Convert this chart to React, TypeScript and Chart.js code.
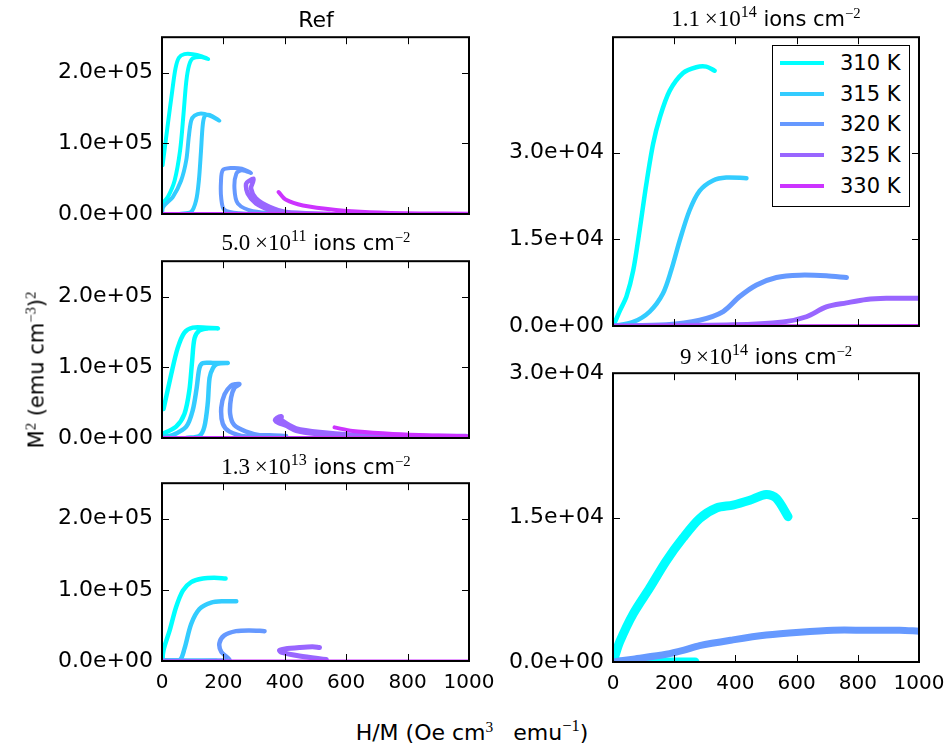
import React, { useEffect, useRef } from 'react';
import { Chart, registerables } from 'chart.js';

Chart.register(...registerables);

// ---------- labels & colours ----------
const temps = ['310 K', '315 K', '320 K', '325 K', '330 K'];
const colors = ['rgb(0,255,255)', 'rgb(51,204,255)', 'rgb(102,153,255)', 'rgb(153,102,255)', 'rgb(204,51,255)'];

// ---------- ticks ----------
const xTicks = [0, 200, 400, 600, 800, 1000];
const leftYTicks = [0, 100000, 200000];
const rightYTicks = [0, 15000, 30000];

// ---------- data: [H/M, M^2] ; left panels M^2 in 1e5, right panels in 1e4 ----------
// Ref
const ref310 = [[2, 0.69], [19, 1.27], [33, 1.73], [44, 2.06], [55, 2.21], [73, 2.26], [100, 2.26], [130, 2.23], [150, 2.19], [128, 2.22], [100, 2.2], [88, 2.1], [79, 1.87], [70, 1.41], [59, 0.9], [41, 0.47], [19, 0.24], [2, 0.15]];
const ref315 = [[0, 0.0], [4, 0.1], [35, 0.24], [62, 0.47], [79, 0.76], [87, 1.08], [95, 1.32], [106, 1.39], [127, 1.42], [155, 1.39], [187, 1.32], [155, 1.4], [140, 1.39], [133, 1.27], [127, 0.89], [120, 0.47], [111, 0.19], [95, 0.03], [57, 0.0]];
const ref320 = [[404, 0.005], [296, 0.04], [247, 0.15], [236, 0.36], [242, 0.57], [260, 0.62], [290, 0.58], [260, 0.64], [225, 0.65], [198, 0.62], [192, 0.45], [193, 0.22], [203, 0.06], [252, 0.01], [350, 0.0]];
const ref325 = [[545, 0.003], [404, 0.03], [350, 0.1], [306, 0.22], [290, 0.36], [296, 0.45], [298, 0.5], [284, 0.47], [274, 0.43], [279, 0.29], [306, 0.15], [350, 0.06], [404, 0.015], [545, 0.0]];
const ref330 = [[0, 0.0], [1000, 0.0], [1000, 0.005], [839, 0.008], [676, 0.025], [567, 0.057], [459, 0.12], [404, 0.2], [380, 0.31]];

// 5.0e11 ions cm^-2
const p2_310 = [[5, 0.41], [30, 0.9], [51, 1.27], [73, 1.49], [100, 1.56], [144, 1.56], [182, 1.55], [150, 1.55], [122, 1.52], [106, 1.41], [98, 1.08], [89, 0.67], [73, 0.34], [46, 0.16], [8, 0.07]];
const p2_315 = [[8, 0.02], [35, 0.04], [79, 0.16], [100, 0.39], [113, 0.71], [122, 0.99], [133, 1.06], [170, 1.06], [214, 1.06], [180, 1.05], [166, 0.99], [155, 0.85], [149, 0.49], [138, 0.16], [122, 0.03], [79, 0.0]];
const p2_320 = [[404, 0.03], [350, 0.04], [318, 0.04], [274, 0.09], [236, 0.18], [222, 0.34], [225, 0.57], [236, 0.71], [252, 0.76], [240, 0.76], [225, 0.74], [204, 0.62], [193, 0.43], [198, 0.2], [220, 0.09], [274, 0.02], [350, 0.01]];
const p2_325 = [[990, 0.02], [730, 0.027], [621, 0.04], [513, 0.078], [437, 0.13], [405, 0.2], [385, 0.27], [388, 0.3], [375, 0.28], [370, 0.25], [380, 0.22], [405, 0.18], [437, 0.11], [513, 0.06], [621, 0.03], [990, 0.01]];
const p2_330 = [[0, 0.0], [1000, 0.0], [1000, 0.02], [838, 0.042], [730, 0.064], [621, 0.1], [562, 0.15]];

// 1.3e13 ions cm^-2
const p3_310 = [[177, 0.005], [5, 0.01], [5, 0.15], [25, 0.43], [46, 0.76], [68, 0.99], [95, 1.11], [133, 1.16], [170, 1.17], [207, 1.16]];
const p3_315 = [[0, 0.01], [57, 0.01], [73, 0.17], [95, 0.52], [122, 0.73], [160, 0.82], [200, 0.84], [242, 0.84]];
const p3_320 = [[0, 0.005], [218, 0.01], [193, 0.13], [187, 0.25], [203, 0.36], [241, 0.42], [285, 0.43], [334, 0.42]];
const p3_325 = [[535, 0.02], [448, 0.07], [390, 0.12], [383, 0.15], [400, 0.17], [448, 0.19], [490, 0.2], [513, 0.19]];
const p3_330 = [[0, 0.0], [1000, 0.0]];

// 1.1e14 ions cm^-2
const p4_310 = [[0, 0.0], [5, 0.05], [22, 0.26], [44, 0.51], [66, 0.96], [87, 1.66], [109, 2.46], [131, 3.15], [153, 3.61], [185, 4.07], [229, 4.38], [272, 4.48], [305, 4.49], [332, 4.42]];
const p4_315 = [[0, 0.0], [66, 0.07], [120, 0.25], [163, 0.56], [190, 0.96], [218, 1.48], [250, 2.0], [283, 2.34], [327, 2.52], [370, 2.57], [436, 2.56]];
const p4_320 = [[0, 0.0], [174, 0.02], [283, 0.1], [360, 0.25], [414, 0.51], [469, 0.71], [534, 0.84], [610, 0.88], [697, 0.87], [763, 0.84]];
const p4_325 = [[0, 0.0], [392, 0.02], [556, 0.07], [632, 0.16], [697, 0.33], [763, 0.4], [828, 0.46], [893, 0.48], [1000, 0.48]];
const p4_330 = [[0, 0.0], [1000, 0.01]];

// 9e14 ions cm^-2
const p5_310 = [[268, 0.0], [0, 0.0], [5, 0.05], [22, 0.21], [66, 0.5], [120, 0.77], [174, 1.05], [229, 1.29], [283, 1.49], [338, 1.6], [392, 1.63], [447, 1.68], [501, 1.74], [534, 1.7], [572, 1.51]];
const p5_320 = [[0, 0.0], [66, 0.03], [174, 0.08], [229, 0.12], [283, 0.17], [392, 0.23], [501, 0.28], [610, 0.31], [719, 0.33], [828, 0.33], [937, 0.33], [1000, 0.32]];

// ---------- layout ----------
const PL = 150, PT = 20, PR = 44, PB = 40;
const FONT = 'DejaVu Sans';

type Series = { t: number; pts: number[][]; w: number };
type PanelDef = {
  plot: { left: number; top: number; width: number; height: number };
  yMax: number; yTicks: number[]; unit: number; showX: boolean; series: Series[];
};

const panels: PanelDef[] = [
  { plot: { left: 162, top: 35, width: 307, height: 179 }, yMax: 250000, yTicks: leftYTicks, unit: 1e5, showX: false,
    series: [{ t: 0, pts: ref310, w: 4 }, { t: 1, pts: ref315, w: 4 }, { t: 2, pts: ref320, w: 4 }, { t: 3, pts: ref325, w: 4.5 }, { t: 4, pts: ref330, w: 4 }] },
  { plot: { left: 162, top: 259, width: 307, height: 179 }, yMax: 250000, yTicks: leftYTicks, unit: 1e5, showX: false,
    series: [{ t: 0, pts: p2_310, w: 4.5 }, { t: 1, pts: p2_315, w: 4.5 }, { t: 2, pts: p2_320, w: 4.5 }, { t: 3, pts: p2_325, w: 5.5 }, { t: 4, pts: p2_330, w: 4 }] },
  { plot: { left: 162, top: 481, width: 307, height: 180 }, yMax: 250000, yTicks: leftYTicks, unit: 1e5, showX: true,
    series: [{ t: 0, pts: p3_310, w: 4.5 }, { t: 1, pts: p3_315, w: 4.5 }, { t: 2, pts: p3_320, w: 4.5 }, { t: 3, pts: p3_325, w: 5 }, { t: 4, pts: p3_330, w: 3 }] },
  { plot: { left: 613, top: 35, width: 306, height: 291 }, yMax: 50000, yTicks: rightYTicks, unit: 1e4, showX: false,
    series: [{ t: 0, pts: p4_310, w: 4.5 }, { t: 1, pts: p4_315, w: 4.5 }, { t: 2, pts: p4_320, w: 5 }, { t: 3, pts: p4_325, w: 5 }, { t: 4, pts: p4_330, w: 3 }] },
  { plot: { left: 613, top: 371, width: 306, height: 291 }, yMax: 30000, yTicks: rightYTicks, unit: 1e4, showX: true,
    series: [{ t: 0, pts: p5_310, w: 9 }, { t: 2, pts: p5_320, w: 7 }] },
];

const fmtSci = (v: number) => {
  const [m, e] = v.toExponential(1).split('e');
  const sign = e[0] === '-' ? '-' : '+';
  return `${m}e${sign}${e.replace(/^[+-]/, '').padStart(2, '0')}`;
};

const framePlugin = {
  id: 'frame',
  afterDraw(chart: any) {
    const { ctx, chartArea: a, scales } = chart;
    const L = 7;
    ctx.save();
    ctx.strokeStyle = '#000';
    ctx.lineWidth = 1;
    ctx.beginPath();
    scales.x.ticks.forEach((t: any) => {
      const px = Math.round(scales.x.getPixelForValue(t.value)) + 0.5;
      ctx.moveTo(px, a.bottom); ctx.lineTo(px, a.bottom - L);
      ctx.moveTo(px, a.top); ctx.lineTo(px, a.top + L);
    });
    scales.y.ticks.forEach((t: any) => {
      const py = Math.round(scales.y.getPixelForValue(t.value)) + 0.5;
      ctx.moveTo(a.left, py); ctx.lineTo(a.left + L, py);
      ctx.moveTo(a.right, py); ctx.lineTo(a.right - L, py);
    });
    ctx.stroke();
    ctx.lineWidth = 2;
    ctx.strokeRect(a.left, a.top, a.right - a.left, a.bottom - a.top);
    ctx.restore();
  },
};

function Panel({ def }: { def: PanelDef }) {
  const ref = useRef<HTMLCanvasElement>(null);
  useEffect(() => {
    const chart = new Chart(ref.current as HTMLCanvasElement, {
      type: 'line',
      data: {
        datasets: def.series.map((s, i) => ({
          label: temps[s.t],
          data: s.pts.map(([x, y]) => ({ x, y: y * def.unit })),
          borderColor: colors[s.t],
          backgroundColor: colors[s.t],
          borderWidth: s.w,
          pointRadius: 0,
          tension: 0.3,
          fill: false,
          order: -i,
          borderCapStyle: 'round',
          borderJoinStyle: 'round',
        })),
      },
      options: {
        responsive: false,
        animation: false,
        events: [],
        layout: { padding: { left: 0, top: PT, right: PR, bottom: 0 } },
        plugins: { legend: { display: false }, tooltip: { enabled: false } },
        scales: {
          x: {
            type: 'linear', min: 0, max: 1000,
            afterBuildTicks: (s: any) => { s.ticks = xTicks.map((v) => ({ value: v })); },
            afterFit: (s: any) => { s.height = PB; },
            grid: { display: false, drawTicks: false },
            border: { display: false },
            ticks: { display: def.showX, autoSkip: false, maxRotation: 0, color: '#000', padding: 10, font: { family: FONT, size: 20 }, callback: (v: any) => String(v) },
          },
          y: {
            type: 'linear', min: 0, max: def.yMax,
            afterBuildTicks: (s: any) => { s.ticks = def.yTicks.map((v) => ({ value: v })); },
            afterFit: (s: any) => { s.width = PL; },
            grid: { display: false, drawTicks: false },
            border: { display: false },
            ticks: { autoSkip: false, color: '#000', padding: 9, font: { family: FONT, size: 22 }, callback: (v: any) => fmtSci(Number(v)) },
          },
        },
      } as any,
      plugins: [framePlugin],
    });
    return () => chart.destroy();
  }, []);
  const { left, top, width, height } = def.plot;
  return (
    <canvas
      ref={ref}
      width={width + PL + PR}
      height={height + PT + PB}
      style={{ position: 'absolute', left: left - PL, top: top - PT, width: width + PL + PR, height: height + PT + PB }}
    />
  );
}

const sup: React.CSSProperties = { fontSize: '0.7em', position: 'relative', top: '-0.55em' };
const mathFont = 'Liberation Serif';

function Title({ x, y, mant, exp }: { x: number; y: number; mant: string; exp: string }) {
  return (
    <div style={{ position: 'absolute', left: x, top: y, transform: 'translate(-50%,-50%)', whiteSpace: 'nowrap', fontFamily: FONT, fontSize: 21, lineHeight: 1 }}>
      <span style={{ fontFamily: mathFont, fontSize: 23 }}>{mant}{'\u2009'}×10<span style={sup}>{exp}</span></span>
      <span> ions cm</span>
      <span style={{ ...sup, fontFamily: mathFont }}>−2</span>
    </div>
  );
}

export default function App() {
  return (
    <div style={{ position: 'fixed', left: 0, top: 0, width: 950, height: 747, background: '#fff', overflow: 'hidden' }}>
      {panels.map((p, i) => <Panel key={i} def={p} />)}

      <div style={{ position: 'absolute', left: 316, top: 20, transform: 'translate(-50%,-50%)', fontFamily: FONT, fontSize: 22, lineHeight: 1 }}>Ref</div>
      <Title x={316} y={242} mant="5.0" exp="11" />
      <Title x={316} y={466} mant="1.3" exp="13" />
      <Title x={766} y={18} mant="1.1" exp="14" />
      <Title x={766} y={356} mant="9" exp="14" />

      <div style={{ position: 'absolute', left: 37, top: 370, transform: 'translate(-50%,-50%) rotate(-90deg)', whiteSpace: 'nowrap', fontFamily: FONT, fontSize: 21, lineHeight: 1 }}>
        M<span style={{ ...sup, fontFamily: mathFont }}>2</span> (emu cm<span style={{ ...sup, fontFamily: mathFont }}>−3</span>)<span style={{ ...sup, fontFamily: mathFont }}>2</span>
      </div>
      <div style={{ position: 'absolute', left: 472, top: 733, transform: 'translate(-50%,-50%)', whiteSpace: 'nowrap', fontFamily: FONT, fontSize: 22, lineHeight: 1 }}>
        H/M (Oe cm<span style={{ ...sup, fontFamily: mathFont }}>3</span><span style={{ marginLeft: 20 }}>emu</span><span style={{ ...sup, fontFamily: mathFont, fontSize: '0.75em' }}>−1</span>)
      </div>

      <div style={{ position: 'absolute', left: 772, top: 45, width: 138, height: 162, border: '1.5px solid #000', background: '#fff', boxSizing: 'border-box' }}>
        {temps.map((t, i) => (
          <div key={t} style={{ position: 'absolute', left: 0, top: 17 + 30.7 * i, width: '100%' }}>
            <div style={{ position: 'absolute', left: 7, top: -2, width: 44, height: 4, background: colors[i] }} />
            <div style={{ position: 'absolute', left: 67, top: -11, fontFamily: FONT, fontSize: 21, lineHeight: '22px', whiteSpace: 'nowrap' }}>{t}</div>
          </div>
        ))}
      </div>
    </div>
  );
}
